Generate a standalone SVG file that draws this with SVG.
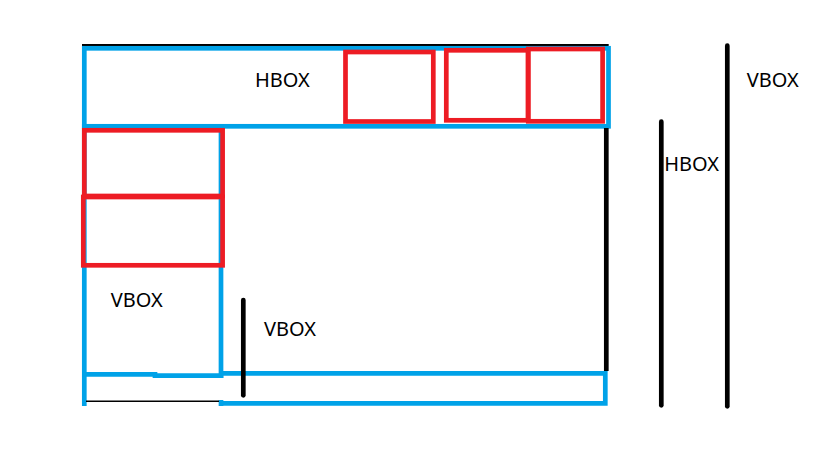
<svg xmlns="http://www.w3.org/2000/svg" width="819" height="460" viewBox="0 0 819 460">
<style>
.blue{fill:none;stroke:#00A2E8;stroke-width:4.7}
.red{fill:none;stroke:#ED1C24;stroke-width:4.7}
.bar{stroke:#000;stroke-width:4.7;stroke-linecap:round;fill:none}
.thin{stroke:#000;fill:none}
.lbl{font-family:"Noto Sans","Open Sans","Liberation Sans",sans-serif;font-size:20px;fill:#000}
</style>
<rect width="819" height="460" fill="#fff"/>
<g id="outer-top-hbox">
<line class="thin" x1="82" y1="45" x2="608.7" y2="45" stroke-width="2"/>
<rect class="blue" x="84.3" y="48.3" width="524.2" height="78"/>
<text class="lbl" x="255" y="86.7">HBOX</text>
</g>
<g id="top-item-1"><rect class="red" x="345.5" y="52" width="87.8" height="69.5"/></g>
<g id="top-item-2"><rect class="red" x="446.3" y="50.3" width="81.7" height="70"/></g>
<g id="top-item-3"><rect class="red" x="528.3" y="49" width="74.3" height="72.3"/></g>
<g id="left-vbox">
<line class="blue" x1="84.3" y1="124" x2="84.3" y2="406"/>
<line class="blue" x1="221" y1="124" x2="221" y2="378"/>
<polyline class="blue" points="84.3,374.3 155,374.3 155,375.7 223.3,375.7"/>
<text class="lbl" x="110.7" y="306.7">VBOX</text>
</g>
<g id="left-item-1"><rect class="red" x="84.3" y="130.3" width="138.3" height="65.7"/></g>
<g id="left-item-2"><rect class="red" x="83.3" y="197" width="139.3" height="68.3"/></g>
<g id="bottom-strip">
<polyline class="blue" points="221,373.3 605.3,373.3 605.3,403.3 221,403.3"/>
<line class="blue" x1="221" y1="400" x2="221" y2="406"/>
<line class="thin" x1="86" y1="401.3" x2="219" y2="401.3" stroke-width="1.5"/>
</g>
<g id="connectors">
<line class="thin" x1="606.3" y1="128" x2="606.3" y2="371" stroke-width="4.7"/>
<line class="bar" x1="243.3" y1="300" x2="243.3" y2="395.3"/>
<line class="bar" x1="661.3" y1="121.7" x2="661.3" y2="405.3"/>
<line class="bar" x1="727.3" y1="45.7" x2="727.3" y2="406.3"/>
</g>
<g id="labels">
<text class="lbl" x="264" y="335.7">VBOX</text>
<text class="lbl" x="664.3" y="171">HBOX</text>
<text class="lbl" x="746.7" y="86.7">VBOX</text>
</g>
</svg>
